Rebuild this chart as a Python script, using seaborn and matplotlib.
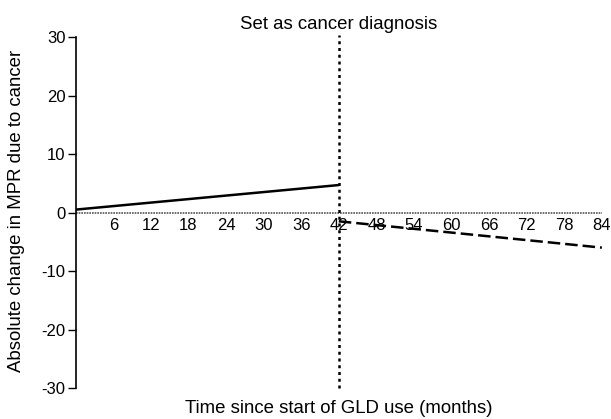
import matplotlib
matplotlib.use("Agg")
import matplotlib.pyplot as plt
import seaborn as sns
import pandas as pd

# values
pre_months = [0, 42]
pre_change = [0.5, 4.7]
post_months = [42, 84]
post_change = [-1.5, -6.0]
diagnosis_month = 42
x_ticks = [6, 12, 18, 24, 30, 36, 42, 48, 54, 60, 66, 72, 78, 84]
y_ticks = [-30, -20, -10, 0, 10, 20, 30]

sns.set_style("ticks")
plt.rcParams['font.family'] = ['Liberation Sans', 'DejaVu Sans']
plt.rcParams['text.color'] = 'black'
plt.rcParams['xtick.color'] = 'black'
plt.rcParams['ytick.color'] = 'black'
plt.rcParams['axes.edgecolor'] = 'black'

pre = pd.DataFrame({'month': pre_months, 'change': pre_change})
post = pd.DataFrame({'month': post_months, 'change': post_change})

fig = plt.figure(figsize=(6.11, 4.19), dpi=100)
ax = fig.add_axes([0.124, 0.074, 0.861, 0.8375])

sns.lineplot(data=pre, x='month', y='change', color='black', linewidth=1.8, ax=ax)
sns.lineplot(data=post, x='month', y='change', color='black', linewidth=1.8,
             linestyle=(0, (5, 2)), ax=ax)

# zero reference line and diagnosis marker
ax.plot([0, 84], [0, 0], color='#555555', linewidth=1.2, linestyle=(0, (1, 0.6)), zorder=1)
ax.plot([diagnosis_month, diagnosis_month], [-30, 30.4], color='black', linewidth=1.8,
        linestyle=(0, (1.2, 1.5)), clip_on=False)

# x tick labels sit just under the zero line
ax.spines['bottom'].set_position(('data', 0))
ax.spines['bottom'].set_visible(False)
ax.spines['top'].set_visible(False)
ax.spines['right'].set_visible(False)
ax.spines['left'].set_linewidth(1.2)

ax.set_xlim(0, 84)
ax.set_ylim(-30, 30)
ax.set_yticks(y_ticks)
ax.set_yticklabels([str(v) for v in y_ticks], fontsize=12)
ax.set_xticks(x_ticks)
ax.set_xticklabels([str(v) for v in x_ticks], fontsize=12)
ax.tick_params(axis='x', length=0, pad=4)
ax.tick_params(axis='y', length=5.5, width=1, pad=2)

ax.set_xlabel('')
ax.set_ylabel('')
ax.set_title('Set as cancer diagnosis', fontsize=13.4, x=(diagnosis_month / 84), pad=6)
fig.text(17 / 611, 1 - 211 / 419, 'Absolute change in MPR due to cancer', rotation=90,
         ha='center', va='center', fontsize=13.4)
fig.text(339 / 611, 1 - 408 / 419, 'Time since start of GLD use (months)',
         ha='center', va='center', fontsize=13.4)

fig.savefig('out.png', dpi=100)
